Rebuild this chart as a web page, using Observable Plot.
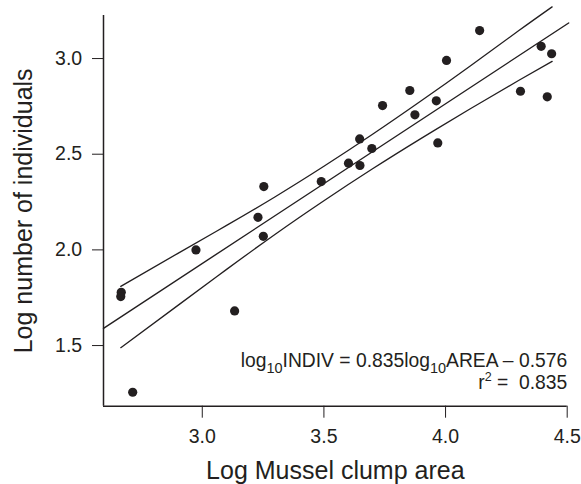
<!DOCTYPE html>
<html>
<head>
<meta charset="utf-8">
<script src="https://cdn.jsdelivr.net/npm/d3@7"></script>
<script src="https://cdn.jsdelivr.net/npm/@observablehq/plot@0.6"></script>
<style>
  html, body { margin: 0; padding: 0; background: #fff; }
  #chart { width: 581px; height: 484px; }
</style>
</head>
<body>
<div id="chart"></div>
<script>
// Log10 mussel clump area (x) and log10 number of individuals (y)
const areaLog  = [2.667, 2.665, 2.714, 2.974, 3.133, 3.229, 3.251, 3.253, 3.489, 3.601, 3.647, 3.648, 3.697, 3.741, 3.853, 3.874, 3.962, 3.968, 4.004, 4.140, 4.308, 4.393, 4.418, 4.436];
const indivLog = [1.778, 1.756, 1.256, 2.000, 1.681, 2.170, 2.071, 2.331, 2.357, 2.453, 2.580, 2.441, 2.530, 2.754, 2.833, 2.706, 2.779, 2.559, 2.990, 3.146, 2.829, 3.064, 2.800, 3.025];

// Fitted regression line (ends as drawn)
const fitX = [2.594, 4.506];
const fitY = [1.590, 3.186];

// Confidence band curves
const bandX     = [2.665, 2.9,   3.1,   3.3,   3.5,   3.7,   3.9,   4.1,   4.3,   4.438];
const bandUpper = [1.809, 1.982, 2.128, 2.278, 2.437, 2.604, 2.779, 2.960, 3.145, 3.270];
const bandLower = [1.489, 1.710, 1.898, 2.082, 2.257, 2.424, 2.583, 2.736, 2.885, 2.985];

// Ticks and texts
const xTicks = [3.0, 3.5, 4.0, 4.5];
const yTicks = [1.5, 2.0, 2.5, 3.0];
const xTitle = "Log Mussel clump area";
const yTitle = "Log number of individuals";
const eqParts = [["log", ""], ["10", "sub"], ["INDIV = 0.835log", ""], ["10", "sub"], ["AREA \u2013 0.576", ""]];
const r2Parts = [["r", ""], ["2", "sup"], [" =  0.835", ""]];

const ink = "#231f20";
const eqText = eqParts.map(p => p[0]).join("");
const r2Text = r2Parts.map(p => p[0]).join("");

const plot = Plot.plot({
  width: 581,
  height: 484,
  marginLeft: 103,
  marginRight: 14.3,
  marginTop: 15,
  marginBottom: 78.3,
  style: { fontFamily: "'Liberation Sans', Arial, Helvetica, sans-serif", fontSize: "19.5px", color: ink, background: "#fff" },
  x: { domain: [2.594, 4.5], ticks: xTicks, tickFormat: d3.format(".1f"), tickSize: 12, tickPadding: 11.3, label: null },
  y: { domain: [1.183, 3.225], ticks: yTicks, tickFormat: d3.format(".1f"), tickSize: 11, tickPadding: 10.3, label: null },
  marks: [
    Plot.ruleX([2.594], { stroke: ink, strokeWidth: 1.5 }),
    Plot.ruleY([1.183], { stroke: ink, strokeWidth: 1.5 }),
    Plot.line(bandX, { x: bandX, y: bandUpper, stroke: ink, strokeWidth: 1.3, curve: "natural" }),
    Plot.line(bandX, { x: bandX, y: bandLower, stroke: ink, strokeWidth: 1.3, curve: "natural" }),
    Plot.line(fitX, { x: fitX, y: fitY, stroke: ink, strokeWidth: 1.4 }),
    Plot.dot(areaLog, { x: areaLog, y: indivLog, r: 4.6, fill: ink, stroke: "none" }),
    Plot.text([xTitle], { text: d => d, frameAnchor: "bottom", dy: 72.6, lineAnchor: "bottom", fontSize: 25, fill: ink }),
    Plot.text([yTitle], { text: d => d, frameAnchor: "left", textAnchor: "middle", rotate: -90, dx: -71.3, lineAnchor: "bottom", fontSize: 25, fill: ink }),
    Plot.text([eqText], { text: d => d, frameAnchor: "bottom-right", textAnchor: "end", dy: -39.7, lineAnchor: "bottom", fontSize: 19.3, fill: ink }),
    Plot.text([r2Text], { text: d => d, frameAnchor: "bottom-right", textAnchor: "end", dy: -17.4, lineAnchor: "bottom", fontSize: 19.3, fill: ink })
  ]
});

// Rebuild the annotation texts with real sub/superscripts
function rich(node, parts) {
  const t = d3.select(node);
  t.text(null).style("white-space", "pre");
  let shift = 0;
  parts.forEach(([s, kind]) => {
    const target = kind === "sub" ? 6 : kind === "sup" ? -8 : 0;
    const ts = t.append("tspan").text(s).attr("dy", target - shift);
    if (kind) ts.attr("font-size", kind === "sub" ? 14.5 : 12.5);
    shift = target;
  });
}
d3.select(plot).selectAll("text").each(function () {
  if (this.textContent === eqText) rich(this, eqParts);
  else if (this.textContent === r2Text) rich(this, r2Parts);
});

document.getElementById("chart").appendChild(plot);
</script>
</body>
</html>
